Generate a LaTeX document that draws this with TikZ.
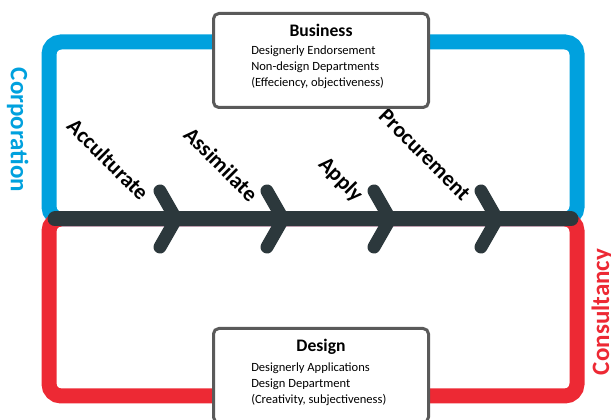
\documentclass[tikz,border=0pt]{standalone}
\usepackage{xcolor}
\usepackage{fontspec}
\setmainfont{Carlito}
\usepackage{tikz}
\usetikzlibrary{positioning}

\definecolor{corpblue}{RGB}{0,161,222}
\definecolor{consred}{RGB}{237,41,52}
\definecolor{bardark}{RGB}{44,56,60}
\definecolor{panelgray}{RGB}{90,90,90}

\tikzset{
    frame/.style={line width=11.25pt, rounded corners=9pt},
    chevron/.style={draw=bardark, line width=9.75pt, line cap=round, line join=miter},
    stage/.style={font=\fontsize{16.5}{16.5}\selectfont\bfseries, rotate=-45, anchor=base east, inner sep=0pt},
    panel/.style={draw=panelgray, line width=2.25pt, fill=white, rounded corners=4pt,
        minimum width=161.25pt, minimum height=70.5pt, inner sep=0pt},
    panel title/.style={font=\fontsize{13.2}{13.2}\selectfont\bfseries, inner sep=0pt},
    panel text/.style={font=\fontsize{9.4}{12}\selectfont, align=left, anchor=north west, inner sep=0pt},
    side/.style={font=\fontsize{18.75}{18.75}\selectfont\bfseries, anchor=base, inner sep=0pt}
}

\begin{document}
\begin{tikzpicture}[x=0.75pt, y=-0.75pt]
                    \useasboundingbox (0,0) rectangle (611,420);
                    \clip (0,0) rectangle (611,420);
                    % Upper and lower frames
                    \draw[frame, draw=corpblue] (49,42) rectangle (577,219);
                    \draw[frame, draw=consred] (49,219) rectangle (577,396);
                    % Middle bar
                    \draw[line width=11.25pt, line cap=round, draw=bardark] (55,219) -- (571,219);
                    % Chevrons
                    \draw[chevron] (160,191) -- (176,219) -- (160,247);
                    \draw[chevron] (267,191) -- (283,219) -- (267,247);
                    \draw[chevron] (374,191) -- (390,219) -- (374,247);
                    \draw[chevron] (481,191) -- (497,219) -- (481,247);
                    % Stage labels
                    \node[stage] (acculturate) at (140,202) {Acculturate};
                    \node[stage] (assimilate) at (249,203) {Assimilate};
                    \node[stage] (apply) at (355,203) {Apply};
                    \node[stage] (procurement) at (462,202) {Procurement};
                    % Side labels
                    \node[side, rotate=-90, text=corpblue] (corporation) at (11,130) {Corporation};
                    \node[side, rotate=90, text=consred] (consultancy) at (609,312) {Consultancy};
                    % Business box
                    \node[panel] (business) at (321,60.5) {};
                    \node[panel title] (business-title) at (321,30) {Business};
                    \node[panel text] (business-text) at (251,45.5)
                        {Designerly Endorsement\\Non-design Departments\\(Effeciency, objectiveness)};
                    % Design box
                    \node[panel] (design) at (321,375.5) {};
                    \node[panel title] (design-title) at (321,347) {Design};
                    \node[panel text] (design-text) at (251,362.5)
                        {Designerly Applications\\Design Department\\(Creativity, subjectiveness)};
\end{tikzpicture}
\end{document}
